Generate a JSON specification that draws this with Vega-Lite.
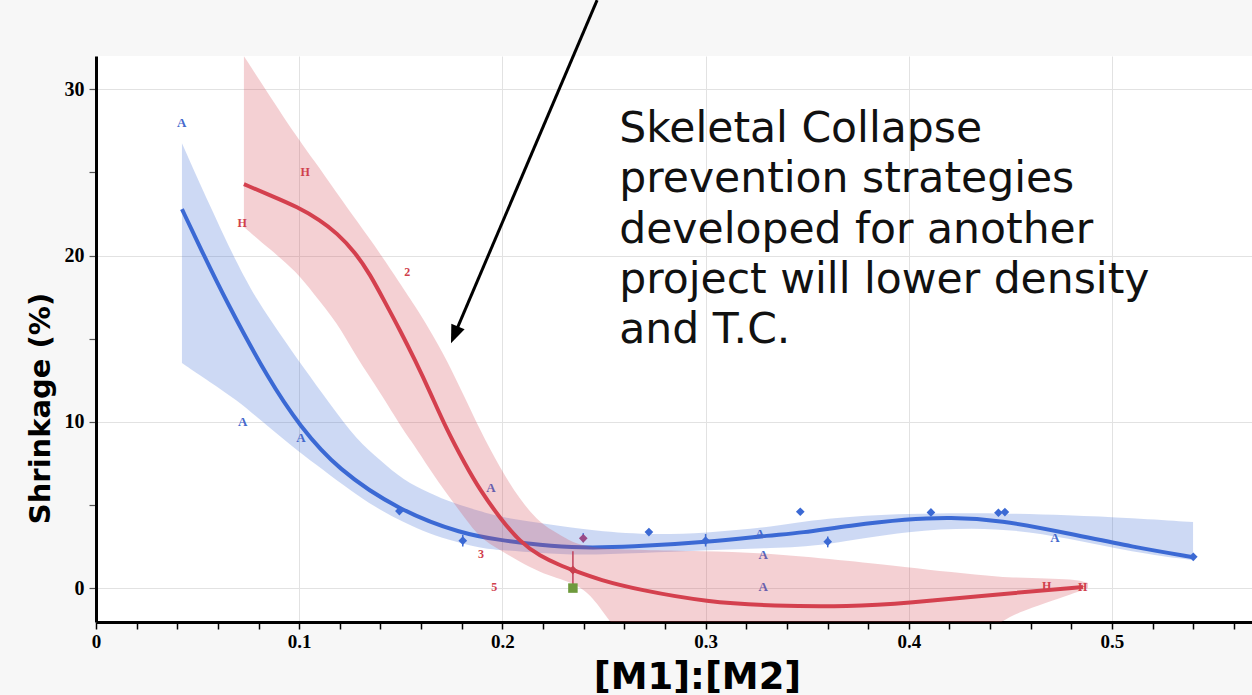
{
  "$schema": "https://vega.github.io/schema/vega-lite/v6.json",
  "width": 1156,
  "height": 566,
  "autosize": {"type": "none"},
  "padding": {"left": 96, "top": 56, "right": 0, "bottom": 73},
  "background": "#f7f7f7",
  "view": {"stroke": null, "fill": "white"},
  "datasets": {
    "bline": [
      {"x":0.0423,"y":22.79},{"x":0.0512,"y":20.5},{"x":0.0635,"y":17.38},{"x":0.0856,"y":12.39},{"x":0.1004,"y":9.74},{"x":0.1186,"y":7.16},{"x":0.1496,"y":4.63},{"x":0.1806,"y":3.25},{"x":0.1988,"y":2.89},{"x":0.2185,"y":2.59},{"x":0.2382,"y":2.41},{"x":0.2628,"y":2.47},{"x":0.3007,"y":2.77},{"x":0.3332,"y":3.19},{"x":0.3465,"y":3.31},{"x":0.371,"y":3.76},{"x":0.3991,"y":4.15},{"x":0.4203,"y":4.27},{"x":0.4449,"y":4.09},{"x":0.4779,"y":3.31},{"x":0.5103,"y":2.47},{"x":0.5399,"y":1.86}
    ],
    "bband": [
      {"x":0.0423,"y":26.76,"lo":13.53},{"x":0.0561,"y":22.97,"lo":12.39},{"x":0.0694,"y":19.5,"lo":11.30},{"x":0.0792,"y":17.32,"lo":10.28},{"x":0.0906,"y":15.27,"lo":9.14},{"x":0.1019,"y":13.29,"lo":7.99},{"x":0.1152,"y":11.06,"lo":6.79},{"x":0.1284,"y":8.90,"lo":5.59},{"x":0.1398,"y":7.70,"lo":4.69},{"x":0.1511,"y":6.49,"lo":3.97},{"x":0.1644,"y":5.71,"lo":3.25},{"x":0.1757,"y":5.11,"lo":2.83},{"x":0.1890,"y":4.63,"lo":2.41},{"x":0.1988,"y":4.27,"lo":2.29},{"x":0.2185,"y":3.91,"lo":2.10},{"x":0.2382,"y":3.55,"lo":1.98},{"x":0.2677,"y":3.19,"lo":2.10},{"x":0.3007,"y":3.31,"lo":2.29},{"x":0.3332,"y":3.67,"lo":2.41},{"x":0.3578,"y":4.21,"lo":2.53},{"x":0.3991,"y":4.51,"lo":3.49},{"x":0.4449,"y":4.51,"lo":3.67},{"x":0.4779,"y":4.39,"lo":3.01},{"x":0.5103,"y":4.21,"lo":2.16},{"x":0.5399,"y":3.97,"lo":1.68}
    ],
    "rline": [
      {"x":0.0728,"y":24.29},{"x":0.0856,"y":23.63},{"x":0.0994,"y":22.91},{"x":0.1102,"y":22.13},{"x":0.1186,"y":21.35},{"x":0.1275,"y":20.20},{"x":0.1348,"y":18.88},{"x":0.1422,"y":17.20},{"x":0.1496,"y":15.51},{"x":0.1570,"y":13.71},{"x":0.1644,"y":11.79},{"x":0.1727,"y":9.50},{"x":0.1816,"y":7.46},{"x":0.1890,"y":5.89},{"x":0.1988,"y":4.21},{"x":0.2087,"y":2.77},{"x":0.2185,"y":1.92},{"x":0.2283,"y":1.38},{"x":0.2347,"y":1.08},{"x":0.2480,"y":0.48},{"x":0.2677,"y":-0.12},{"x":0.3007,"y":-0.84},{"x":0.3332,"y":-1.08},{"x":0.3711,"y":-1.12},{"x":0.3991,"y":-0.90},{"x":0.4449,"y":-0.36},{"x":0.4857,"y":0.06}
    ],
    "rband": [
      {"x":0.0728,"y":31.99,"lo":21.71},{"x":0.0856,"y":29.58,"lo":20.38},{"x":0.0989,"y":27.12,"lo":19.00},{"x":0.1068,"y":25.80,"lo":17.74},{"x":0.1186,"y":23.75,"lo":15.99},{"x":0.1284,"y":22.07,"lo":13.83},{"x":0.1398,"y":20.14,"lo":11.79},{"x":0.1511,"y":18.04,"lo":9.50},{"x":0.1560,"y":17.14,"lo":8.72},{"x":0.1644,"y":15.51,"lo":7.10},{"x":0.1727,"y":13.71,"lo":5.65},{"x":0.1816,"y":11.43,"lo":4.21},{"x":0.1890,"y":9.50,"lo":3.01},{"x":0.1988,"y":7.22,"lo":2.29},{"x":0.2087,"y":5.29,"lo":1.56},{"x":0.2185,"y":3.91,"lo":0.96},{"x":0.2269,"y":3.31,"lo":0.60},{"x":0.2347,"y":2.71,"lo":0.30},{"x":0.2431,"y":2.47,"lo":-0.30},{"x":0.2530,"y":2.35,"lo":-2.04},{"x":0.2677,"y":2.29,"lo":-4.33},{"x":0.2972,"y":2.22,"lo":-6.73},{"x":0.3332,"y":2.10,"lo":-7.94},{"x":0.3711,"y":1.62,"lo":-7.94},{"x":0.3991,"y":1.26,"lo":-6.73},{"x":0.4203,"y":0.96,"lo":-4.33},{"x":0.4449,"y":0.66,"lo":-1.92},{"x":0.4611,"y":0.60,"lo":-1.14},{"x":0.4744,"y":0.54,"lo":-0.60},{"x":0.4843,"y":0.48,"lo":-0.18},{"x":0.4882,"y":0.30,"lo":0.0}
    ],
    "pts": [
      {"g":"A","k":"t","lbl":"A","x":0.0422,"y":27.98},
      {"g":"A","k":"t","lbl":"A","x":0.0722,"y":9.96},
      {"g":"A","k":"t","lbl":"A","x":0.1009,"y":9.04},
      {"g":"A","k":"t","lbl":"A","x":0.1944,"y":6.01},
      {"g":"A","k":"t","lbl":"A","x":0.3268,"y":3.25},
      {"g":"A","k":"t","lbl":"A","x":0.3283,"y":2.0},
      {"g":"A","k":"t","lbl":"A","x":0.3283,"y":0.05},
      {"g":"A","k":"t","lbl":"A","x":0.4719,"y":3.0},
      {"g":"A","k":"d","lbl":"","x":0.1493,"y":4.63},
      {"g":"A","k":"d","lbl":"","x":0.1805,"y":2.85},
      {"g":"A","k":"d","lbl":"","x":0.2721,"y":3.37},
      {"g":"A","k":"d","lbl":"","x":0.3000,"y":2.85},
      {"g":"A","k":"d","lbl":"","x":0.3466,"y":4.59},
      {"g":"A","k":"d","lbl":"","x":0.3601,"y":2.79},
      {"g":"A","k":"d","lbl":"","x":0.4109,"y":4.55},
      {"g":"A","k":"d","lbl":"","x":0.4441,"y":4.53},
      {"g":"A","k":"d","lbl":"","x":0.4473,"y":4.57},
      {"g":"A","k":"d","lbl":"","x":0.5400,"y":1.88},
      {"g":"M","k":"d","lbl":"","x":0.2398,"y":2.99},
      {"g":"H","k":"t","lbl":"H","x":0.0719,"y":21.97},
      {"g":"H","k":"t","lbl":"H","x":0.1029,"y":25.0},
      {"g":"H","k":"t","lbl":"2","x":0.1532,"y":19.02},
      {"g":"H","k":"t","lbl":"3","x":0.1895,"y":2.04},
      {"g":"H","k":"t","lbl":"5","x":0.1960,"y":0.08},
      {"g":"H","k":"t","lbl":"H","x":0.4678,"y":0.12},
      {"g":"H","k":"t","lbl":"H","x":0.4856,"y":0.04},
      {"g":"H","k":"d","lbl":"","x":0.2347,"y":1.08},
      {"g":"G","k":"s","lbl":"","x":0.2347,"y":0.0}
    ],
    "err": [
      {"g":"A","x":0.1805,"y":3.2,"lo":2.5},
      {"g":"A","x":0.3000,"y":3.25,"lo":2.5},
      {"g":"A","x":0.3601,"y":3.1,"lo":2.45},
      {"g":"A","x":0.2398,"y":3.3,"lo":2.75},
      {"g":"H","x":0.2347,"y":2.22,"lo":0.0}
    ],
    "arrow": [
      {"x":0.2466,"y":35.36,"x2":0.1766,"y2":15.29}
    ],
    "head": [
      {"x":0.1747,"y":14.73}
    ],
    "note": [
      {"x":0.2575,"y":26.82,"t":"Skeletal Collapse\nprevention strategies\ndeveloped for another\nproject will lower density\nand T.C."}
    ]
  },
  "encoding": {
    "x": {
      "field": "x", "type": "quantitative",
      "scale": {"domain": [0, 0.5689], "nice": false, "zero": false},
      "axis": {
        "values": [0,0.02,0.04,0.06,0.08,0.1,0.12,0.14,0.16,0.18,0.2,0.22,0.24,0.26,0.28,0.3,0.32,0.34,0.36,0.38,0.4,0.42,0.44,0.46,0.48,0.5,0.52,0.54,0.56],
        "labelExpr": "abs(datum.value*10 - round(datum.value*10)) < 0.001 ? format(datum.value, '~g') : ''",
        "labelFont": "Liberation Serif", "labelFontWeight": "bold", "labelFontSize": 19, "labelColor": "#000",
        "labelPadding": 3, "labelFlush": false, "labelOverlap": false,
        "domainColor": "#000", "domainWidth": 3,
        "tickColor": "#000", "tickWidth": 1.5, "tickSize": 7,
        "grid": true, "gridColor": "#e2e2e2", "gridWidth": 1,
        "gridOpacity": {"condition": {"test": "abs(datum.value*10 - round(datum.value*10)) < 0.001", "value": 1}, "value": 0},
        "title": "[M1]:[M2]",
        "titleFont": "DejaVu Sans", "titleFontWeight": "bold", "titleFontSize": 37, "titleColor": "#000",
        "titleX": 601, "titleY": 66, "titleBaseline": "alphabetic", "titleAlign": "center"
      }
    },
    "y": {
      "field": "y", "type": "quantitative",
      "scale": {"domain": [-2.04, 32], "nice": false, "zero": false},
      "axis": {
        "values": [0,5,10,15,20,25,30],
        "labelExpr": "datum.value % 10 == 0 ? format(datum.value, 'd') : ''",
        "labelFont": "Liberation Serif", "labelFontWeight": "bold", "labelFontSize": 20, "labelColor": "#000",
        "labelPadding": 5,
        "domainColor": "#000", "domainWidth": 3,
        "tickColor": "#555", "tickWidth": 1.2, "tickSize": 7,
        "grid": true, "gridColor": "#e2e2e2", "gridWidth": 1,
        "gridOpacity": {"condition": {"test": "datum.value % 10 == 0", "value": 1}, "value": 0},
        "title": "Shrinkage (%)",
        "titleFont": "DejaVu Sans", "titleFontWeight": "bold", "titleFontSize": 29, "titleColor": "#000",
        "titleAngle": -90, "titleX": -56, "titleY": 352, "titleBaseline": "middle", "titleAlign": "center"
      }
    }
  },
  "layer": [
    {"data": {"name": "bband"}, "mark": {"type": "area", "color": "#3d6bd6", "opacity": 0.26, "interpolate": "basis"}, "encoding": {"y2": {"field": "lo"}}},
    {"data": {"name": "bline"}, "mark": {"type": "line", "color": "#3b69d4", "strokeWidth": 4, "interpolate": "basis"}, "encoding": {}},
    {"data": {"name": "err"}, "transform": [{"filter": "datum.g == 'A'"}], "mark": {"type": "rule", "color": "#3b69d4", "strokeWidth": 1.5}, "encoding": {"y2": {"field": "lo"}}},
    {"data": {"name": "pts"}, "transform": [{"filter": "datum.g == 'A' && datum.k == 'd'"}], "mark": {"type": "point", "shape": "diamond", "filled": true, "size": 75, "color": "#3b69d4", "opacity": 1}, "encoding": {}},
    {"data": {"name": "pts"}, "transform": [{"filter": "datum.g == 'M'"}], "mark": {"type": "point", "shape": "diamond", "filled": true, "size": 75, "color": "#9a4a86", "opacity": 1}, "encoding": {}},
    {"data": {"name": "pts"}, "transform": [{"filter": "datum.g == 'A' && datum.k == 't'"}], "mark": {"type": "text", "font": "Liberation Serif", "fontWeight": "bold", "fontSize": 13, "color": "#4569cc", "baseline": "middle", "align": "center"}, "encoding": {"text": {"field": "lbl"}}},
    {"data": {"name": "rband"}, "mark": {"type": "area", "color": "#d4424f", "opacity": 0.25, "interpolate": "basis", "clip": true}, "encoding": {"y2": {"field": "lo"}}},
    {"data": {"name": "rline"}, "mark": {"type": "line", "color": "#d4404e", "strokeWidth": 4, "interpolate": "basis"}, "encoding": {}},
    {"data": {"name": "err"}, "transform": [{"filter": "datum.g == 'H'"}], "mark": {"type": "rule", "color": "#c0405a", "strokeWidth": 1.5}, "encoding": {"y2": {"field": "lo"}}},
    {"data": {"name": "pts"}, "transform": [{"filter": "datum.g == 'H' && datum.k == 'd'"}], "mark": {"type": "point", "shape": "diamond", "filled": true, "size": 75, "color": "#c8404e", "opacity": 1}, "encoding": {}},
    {"data": {"name": "pts"}, "transform": [{"filter": "datum.g == 'G'"}], "mark": {"type": "point", "shape": "square", "filled": true, "size": 90, "color": "#6e9a3c", "opacity": 1}, "encoding": {}},
    {"data": {"name": "pts"}, "transform": [{"filter": "datum.g == 'H' && datum.k == 't'"}], "mark": {"type": "text", "font": "Liberation Serif", "fontWeight": "bold", "fontSize": 12, "color": "#d0404c", "baseline": "middle", "align": "center"}, "encoding": {"text": {"field": "lbl"}}},
    {"data": {"name": "arrow"}, "mark": {"type": "rule", "color": "#000", "strokeWidth": 3}, "encoding": {"x2": {"field": "x2"}, "y2": {"field": "y2"}}},
    {"data": {"name": "head"}, "mark": {"type": "point", "shape": "M0,0L-0.8,-2L0.8,-2Z", "size": 324, "angle": 22.8, "filled": true, "color": "#000", "opacity": 1}, "encoding": {}},
    {"data": {"name": "note"}, "mark": {"type": "text", "font": "DejaVu Sans", "fontSize": 42.5, "color": "#111", "align": "left", "baseline": "alphabetic", "lineBreak": "\n", "lineHeight": 50.2}, "encoding": {"text": {"field": "t"}}}
  ]
}
